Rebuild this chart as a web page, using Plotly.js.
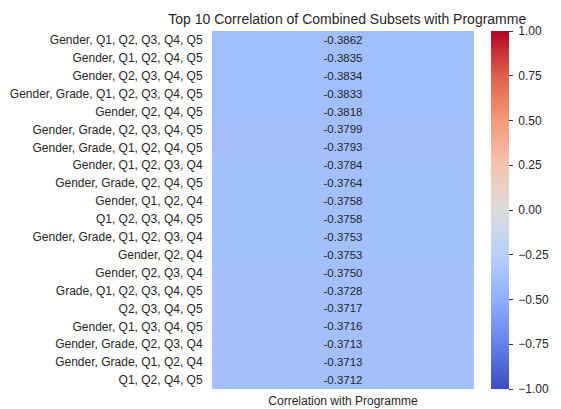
<!DOCTYPE html>
<html>
<head>
<meta charset="utf-8">
<script src="https://cdn.plot.ly/plotly-3.0.1.min.js"></script>
<style>html,body{margin:0;padding:0;background:#fff;}#chart{width:561px;height:409px;}</style>
</head>
<body>
<div id="chart"></div>
<script>
const subsets = [
  "Gender, Q1, Q2, Q3, Q4, Q5",
  "Gender, Q1, Q2, Q4, Q5",
  "Gender, Q2, Q3, Q4, Q5",
  "Gender, Grade, Q1, Q2, Q3, Q4, Q5",
  "Gender, Q2, Q4, Q5",
  "Gender, Grade, Q2, Q3, Q4, Q5",
  "Gender, Grade, Q1, Q2, Q4, Q5",
  "Gender, Q1, Q2, Q3, Q4",
  "Gender, Grade, Q2, Q4, Q5",
  "Gender, Q1, Q2, Q4",
  "Q1, Q2, Q3, Q4, Q5",
  "Gender, Grade, Q1, Q2, Q3, Q4",
  "Gender, Q2, Q4",
  "Gender, Q2, Q3, Q4",
  "Grade, Q1, Q2, Q3, Q4, Q5",
  "Q2, Q3, Q4, Q5",
  "Gender, Q1, Q3, Q4, Q5",
  "Gender, Grade, Q2, Q3, Q4",
  "Gender, Grade, Q1, Q2, Q4",
  "Q1, Q2, Q4, Q5"
];
const correlations = [
  -0.3862, -0.3835, -0.3834, -0.3833, -0.3818, -0.3799, -0.3793, -0.3784, -0.3764, -0.3758,
  -0.3758, -0.3753, -0.3753, -0.3750, -0.3728, -0.3717, -0.3716, -0.3713, -0.3713, -0.3712
];
const columnName = ["Correlation with Programme"];
const colorbarTicks = [-1, -0.75, -0.5, -0.25, 0, 0.25, 0.5, 0.75, 1];

const coolwarm = [
  [0.0, "rgb(59,76,192)"],
  [0.125, "rgb(98,130,234)"],
  [0.25, "rgb(141,176,254)"],
  [0.375, "rgb(184,208,249)"],
  [0.5, "rgb(221,220,220)"],
  [0.625, "rgb(245,196,173)"],
  [0.75, "rgb(244,154,123)"],
  [0.875, "rgb(222,96,77)"],
  [1.0, "rgb(180,4,38)"]
];

const z = correlations.map(v => [v]);
const txt = correlations.map(v => [v.toFixed(4)]);
const font = "Liberation Sans, Arial, sans-serif";

const trace = {
  type: "heatmap",
  x: columnName,
  y: subsets,
  z: z,
  text: txt,
  texttemplate: "%{text}",
  textfont: {family: font, size: 11.5, color: "#262626"},
  colorscale: coolwarm,
  zmin: -1, zmax: 1,
  xgap: 0, ygap: 0,
  hoverinfo: "skip",
  colorbar: {
    x: 1.0637, xanchor: "left", xpad: 0,
    y: 0.5, yanchor: "middle", ypad: 0,
    len: 1, lenmode: "fraction",
    thickness: 18, thicknessmode: "pixels",
    outlinewidth: 0,
    tickvals: colorbarTicks,
    ticktext: colorbarTicks.map(v => " " + (v < 0 ? "\u2212" : "") + Math.abs(v).toFixed(2)),
    ticks: "outside", ticklen: 4, tickwidth: 1, tickcolor: "#333",
    tickfont: {family: font, size: 12, color: "#262626"}
  }
};

const layout = {
  width: 561, height: 409,
  margin: {l: 212, r: 82, t: 31, b: 20},
  paper_bgcolor: "#fff", plot_bgcolor: "#fff",
  title: {
    text: "Top 10 Correlation of Combined Subsets with Programme",
    font: {family: font, size: 14, color: "#262626"},
    x: 0.619, xanchor: "center", y: 0.954, yanchor: "middle"
  },
  xaxis: {
    showgrid: false, zeroline: false, showline: false,
    ticks: "outside", ticklen: 1, tickcolor: "rgba(0,0,0,0)",
    tickfont: {family: font, size: 12, color: "#262626"}
  },
  yaxis: {
    autorange: "reversed",
    showgrid: false, zeroline: false, showline: false,
    ticks: "outside", ticklen: 6, tickcolor: "rgba(0,0,0,0)",
    tickfont: {family: font, size: 12, color: "#262626"}
  }
};

Plotly.newPlot("chart", [trace], layout, {displayModeBar: false, staticPlot: true});
</script>
</body>
</html>
